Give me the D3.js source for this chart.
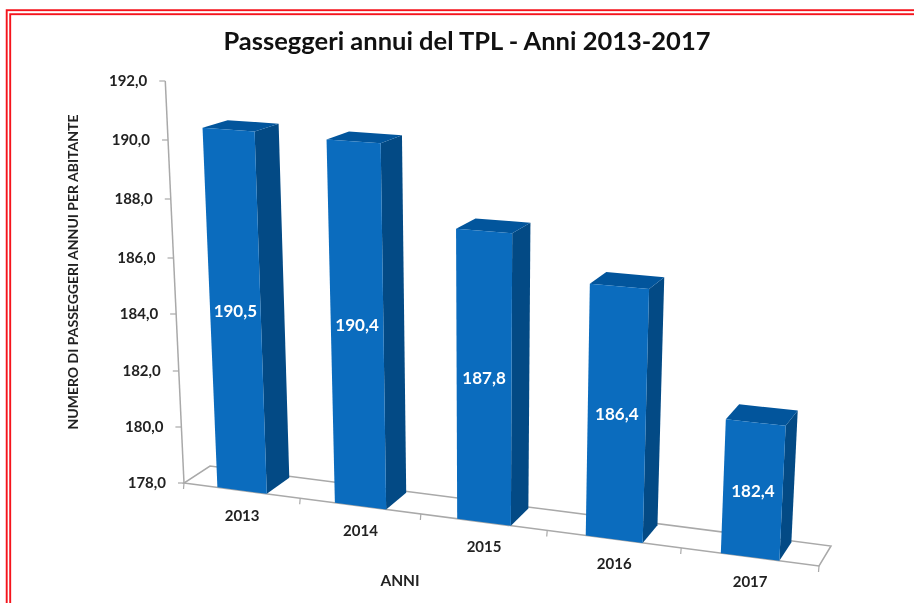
<!DOCTYPE html>
<html><head><meta charset="utf-8">
<script src="https://cdnjs.cloudflare.com/ajax/libs/d3/7.8.5/d3.min.js"></script>
<style>html,body{margin:0;padding:0;background:#fff}svg{display:block;filter:blur(.45px)}text{font-family:Lato,"Open Sans",sans-serif;font-weight:700}</style>
</head><body><svg width="914" height="603"></svg>
<script>
const categories=["2013","2014","2015","2016","2017"];
const values=[190.5,190.4,187.8,186.4,182.4];
const valueLabels=["190,5","190,4","187,8","186,4","182,4"];
const yTicks=[178,180,182,184,186,188,190,192];
const yTickLabels=["178,0","180,0","182,0","184,0","186,0","188,0","190,0","192,0"];
const title="Passeggeri annui del TPL - Anni 2013-2017";
const yTitle="NUMERO DI PASSEGGERI ANNUI PER ABITANTE";
const xTitle="ANNI";

const svg=d3.select("svg");
// frame
[[6.7,10.2,920,800],[10.2,14.2,920,800]].forEach(r=>{
  svg.append("rect").attr("x",r[0]).attr("y",r[1]).attr("width",r[2]).attr("height",r[3]).attr("fill","none").attr("stroke","#f5141c").attr("stroke-width",1.9);
});

// scales
const band=d3.scaleBand().domain(categories).range([0,1]).paddingInner(.575).paddingOuter(.2875);
const warp=d3.scaleLinear().domain([0,.2,.4,.6,.8,1]).range([0,.183,.373,.572,.783,1]);
const yAxisPx=d3.scaleLinear().domain(yTicks).range([0,56,112,169,225,284,343,402]);
const fl={a:[184,483],b:[819,566],c:[831,546],d:[210,466]};
const vpX=482,vpK=6400;
function base(u,d){
  const w=warp(u);
  const fx=fl.a[0]+(fl.b[0]-fl.a[0])*w, fy=fl.a[1]+(fl.b[1]-fl.a[1])*w;
  const bx=fl.d[0]+(fl.c[0]-fl.d[0])*w, by=fl.d[1]+(fl.c[1]-fl.d[1])*w;
  return [fx+(bx-fx)*d, fy+(by-fy)*d, w];
}
function P(u,d,v){
  const [x,y,w]=base(u,d);
  const h=yAxisPx(v)*(1+.1*w)*(1-.025*d);
  return [x+h*(x-vpX)/vpK, y-h];
}
const path=pts=>d3.line()(pts)+"Z";
const gray="#a9a9a9";

// floor
svg.append("path").attr("d",path([P(0,0,178),P(1,0,178),P(1,1,178),P(0,1,178)])).attr("fill","#fff").attr("stroke",gray).attr("stroke-width",1.5);
// floor ticks
d3.range(0,6).forEach(i=>{
  const p=P(i/5,0,178);
  svg.append("line").attr("x1",p[0]).attr("y1",p[1]).attr("x2",p[0]-.5).attr("y2",p[1]+6).attr("stroke",gray).attr("stroke-width",1.2);
});
// y axis
svg.append("line").attr("x1",P(0,0,178)[0]).attr("y1",P(0,0,178)[1]).attr("x2",P(0,0,192)[0]).attr("y2",P(0,0,192)[1]).attr("stroke",gray).attr("stroke-width",1.5);
yTicks.forEach((t,i)=>{
  const p=P(0,0,t);
  svg.append("line").attr("x1",p[0]-6).attr("y1",p[1]).attr("x2",p[0]).attr("y2",p[1]).attr("stroke",gray).attr("stroke-width",1.2);
  svg.append("text").attr("x",p[0]-18).attr("y",p[1]+5).attr("text-anchor","end").attr("font-size",15).attr("fill","#222").text(yTickLabels[i]);
});
// bars
const D=.93;
categories.forEach((c,i)=>{
  const u0=band(c),u1=u0+band.bandwidth(),v=values[i];
  const g=svg.append("g");
  g.append("path").attr("d",path([P(u1,0,178),P(u1,D,178),P(u1,D,v),P(u1,0,v)])).attr("fill","#034a85");
  g.append("path").attr("d",path([P(u0,0,v),P(u1,0,v),P(u1,D,v),P(u0,D,v)])).attr("fill","#02559c");
  g.append("path").attr("d",path([P(u0,0,178),P(u1,0,178),P(u1,0,v),P(u0,0,v)])).attr("fill","#0b6cbe");
  const um=(u0+u1)/2, bot=P(um,0,178), top=P(um,0,v);
  g.append("text").attr("x",(bot[0]+top[0])/2).attr("y",(bot[1]+top[1])/2+7).attr("text-anchor","middle").attr("font-size",17).attr("fill","#fff").text(valueLabels[i]);
  svg.append("text").attr("x",bot[0]).attr("y",bot[1]+30).attr("text-anchor","middle").attr("font-size",15).attr("fill","#222").text(c);
});
// titles
svg.append("text").attr("x",467).attr("y",50).attr("text-anchor","middle").attr("font-size",25.5).attr("fill","#111").text(title);
svg.append("text").attr("x",400).attr("y",586).attr("text-anchor","middle").attr("font-size",15.5).attr("fill","#222").text(xTitle);
svg.append("text").attr("transform","translate(78,272) rotate(-90)").attr("text-anchor","middle").attr("font-size",14).attr("fill","#222").text(yTitle);
</script></body></html>
